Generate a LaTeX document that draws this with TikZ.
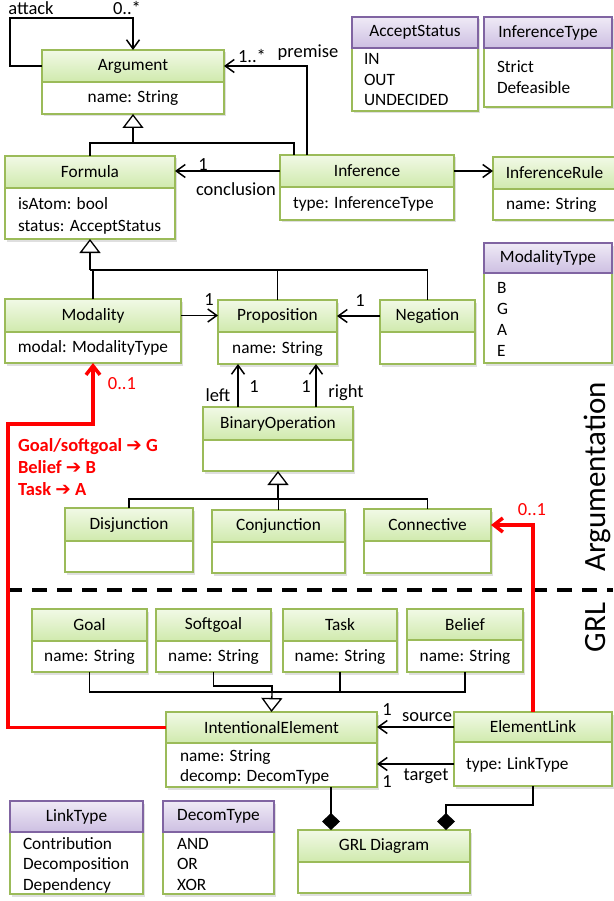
\documentclass[tikz,border=0pt]{standalone}
\usepackage{fontspec}
\setmainfont{Carlito}
\newfontfamily\arrfont{DejaVu Sans}
\usetikzlibrary{arrows.meta,shadows,calc}
\definecolor{grnb}{HTML}{9BBB59}
\definecolor{gtop}{HTML}{F1F9E6}
\definecolor{gbot}{HTML}{D0EAAD}
\definecolor{purb}{HTML}{8064A2}
\definecolor{ptop}{HTML}{EFEAF6}
\definecolor{pbot}{HTML}{CDBFE2}
\definecolor{redl}{HTML}{FF0000}
\newcommand{\umlcls}[8]{%
  \node[boxbody, minimum width={(#4-#2)*1pt}, minimum height={(#6-#3)*1pt}] (#1) at ({(#2+#4)/2},{(#3+#6)/2}) {};
  \node[#8, minimum width={(#4-#2)*1pt}, minimum height={(#5-#3)*1pt}, anchor=north] (#1-h) at (#1.north) {#7};
}
\tikzset{
  every node/.style={inner sep=0pt, outer sep=0pt},
  boxbody/.style={draw=grnb, line width=1.2pt, fill=white,
    drop shadow={shadow xshift=2pt, shadow yshift=-2.5pt, opacity=0.25}},
  ghead/.style={draw=grnb, line width=1.2pt, top color=gtop, bottom color=gbot,
    font=\fontsize{17.3}{21}\selectfont},
  phead/.style={draw=purb, line width=1.2pt, top color=ptop, bottom color=pbot,
    font=\fontsize{17.3}{21}\selectfont},
  bt/.style={font=\fontsize{17.3}{21}\selectfont, anchor=base west},
  btc/.style={font=\fontsize{17.3}{21}\selectfont, anchor=base},
  lbl/.style={font=\fontsize{18.5}{22}\selectfont},
  rlbl/.style={font=\fontsize{18.5}{22}\selectfont, text=redl},
  rbold/.style={font=\fontsize{18.5}{22}\selectfont\bfseries, text=redl, anchor=base west},
  side/.style={font=\fontsize{31}{36}\selectfont, rotate=90, anchor=base},
  assoc/.style={line width=1.5pt, -{Straight Barb[length=9pt,width=13pt]}},
  tree/.style={line width=1.3pt},
  gen/.style={line width=1.3pt, -{Triangle[open, fill=white, length=14pt, width=21pt]}},
  comp/.style={line width=1.5pt, -{Diamond[length=17pt, width=18pt]}},
  redarrow/.style={draw=redl, line width=3.5pt, -{Straight Barb[length=9pt,width=14pt]}},
}
\begin{document}
\begin{tikzpicture}[x=1pt,y=-1pt]
\useasboundingbox[fill=white] (0,0) rectangle (613,901);

% ---------- classes ----------
\umlcls{argument}{42}{50}{224}{82}{114}{Argument}{ghead}
\umlcls{formula}{5}{156}{175}{188}{239}{Formula}{ghead}
\umlcls{inference}{280}{155}{454}{187}{220}{Inference}{ghead}
\umlcls{inferencerule}{493}{157}{616}{189}{220}{InferenceRule}{ghead}
\umlcls{acceptstatus}{352}{17}{478}{48}{111}{AcceptStatus}{phead}
\umlcls{inferencetype}{484}{17}{612}{48}{107}{InferenceType}{phead}
\umlcls{modalitytype}{484}{243}{612}{273}{363}{ModalityType}{phead}
\umlcls{modality}{5}{299}{181}{332}{363}{Modality}{ghead}
\umlcls{proposition}{218}{300}{337}{332}{364}{Proposition}{ghead}
\umlcls{negation}{380}{300}{475}{332}{364}{Negation}{ghead}
\umlcls{binop}{203}{407}{353}{440}{471}{BinaryOperation}{ghead}
\umlcls{disjunction}{65}{508}{193}{541}{572}{Disjunction}{ghead}
\umlcls{conjunction}{212}{510}{345}{542}{573}{Conjunction}{ghead}
\umlcls{connective}{364}{509}{491}{541}{573}{Connective}{ghead}
\umlcls{goal}{32}{609}{147}{641}{672}{Goal}{ghead}
\umlcls{softgoal}{156}{609}{271}{641}{672}{Softgoal}{ghead}
\umlcls{task}{283}{609}{397}{641}{672}{Task}{ghead}
\umlcls{belief}{407}{609}{523}{640}{672}{Belief}{ghead}
\umlcls{ie}{166}{712}{377}{743}{787}{IntentionalElement}{ghead}
\umlcls{elink}{454}{712}{612}{742}{786}{ElementLink}{ghead}
\umlcls{linktype}{10}{801}{143}{832}{894}{LinkType}{phead}
\umlcls{decomtype}{163}{801}{274}{832}{894}{DecomType}{phead}
\umlcls{grl}{298}{830}{470}{862}{893}{GRL Diagram}{ghead}

% ---------- attributes ----------
\node[btc] (argument-a) at (133,103) {name: String};
\node[bt] (formula-a1) at (18,209.5) {isAtom: bool};
\node[bt] (formula-a2) at (18,231) {status: AcceptStatus};
\node[bt] (inference-a) at (293,209) {type: InferenceType};
\node[bt] (inferencerule-a) at (506,210) {name: String};
\node[bt] (as-1) at (364,65) {IN};
\node[bt] (as-2) at (364,85.5) {OUT};
\node[bt] (as-3) at (364,106) {UNDECIDED};
\node[bt] (it-1) at (497,73) {Strict};
\node[bt] (it-2) at (497,94) {Defeasible};
\node[bt] (mt-1) at (497,293) {B};
\node[bt] (mt-2) at (497,314) {G};
\node[bt] (mt-3) at (497,335) {A};
\node[bt] (mt-4) at (497,356) {E};
\node[btc] (modality-a) at (93,352) {modal: ModalityType};
\node[btc] (proposition-a) at (277.5,353) {name: String};
\node[btc] (goal-a) at (89.5,661) {name: String};
\node[btc] (softgoal-a) at (213.5,661) {name: String};
\node[btc] (task-a) at (340,661) {name: String};
\node[btc] (belief-a) at (465,661) {name: String};
\node[bt] (ie-a1) at (180,761) {name: String};
\node[bt] (ie-a2) at (180,781) {decomp: DecomType};
\node[bt] (elink-a) at (466,769) {type: LinkType};
\node[bt] (lt-1) at (23,849) {Contribution};
\node[bt] (lt-2) at (23,869.5) {Decomposition};
\node[bt] (lt-3) at (23,890) {Dependency};
\node[bt] (dt-1) at (177,849) {AND};
\node[bt] (dt-2) at (177,869.5) {OR};
\node[bt] (dt-3) at (177,890) {XOR};

% ---------- separator ----------
\coordinate (sepL) at (7,590);
\coordinate (sepR) at (613,590);
\draw[line width=3.5pt, dash pattern=on 15pt off 10pt] (sepL) -- (sepR);
\node[side] (argtxt) at (605,477) {Argumentation};
\node[side] (grltxt) at (605,627.5) {GRL};

% ---------- generalizations ----------
\coordinate (j1) at (133,143);
\draw[tree] (formula.north) |- (j1);
\draw[tree] (j1) -| ($(inference.north west)+(14,0)$);
\draw[gen] (j1) -- (argument.south);

\coordinate (j2) at (90,270);
\draw[tree] (modality.north) -- (modality.north |- j2);
\draw[tree] (j2) -| (negation.north);
\draw[tree] (proposition.north) -- (proposition.north |- j2);
\draw[gen] (j2) -- (formula.south);

\coordinate (j3) at (278,499);
\draw[tree] (disjunction.north) |- (j3) -| (connective.north);
\draw[tree] (conjunction.north) -- (conjunction.north |- j3);
\draw[gen] (j3) -- (binop.south);

\coordinate (j4) at (272,692);
\coordinate (j5) at (272,686);
\draw[tree] (goal.south) |- (belief.south |- j4) -- (belief.south);
\draw[tree] (softgoal.south) |- (j5) -- (j4);
\draw[tree] (task.south) -- (task.south |- j4);
\draw[gen] (j4) -- (ie.north);

% ---------- associations ----------
\draw[assoc] (argument-h.west) -- ++(-32,0) -- ++(0,-48) -| (argument.north);
\node[lbl] (l-attack) at (31,8) {attack};
\node[lbl] (l-attackm) at (127,8) {0..*};

\draw[assoc] ($(inference.north west)+(27,0)$) |- (argument-h.east);
\node[lbl] (l-premm) at (252,56) {1..*};
\node[lbl] (l-prem) at (308,53) {premise};

\draw[assoc] (inference-h.west) -- (inference-h.west -| formula.east);
\node[lbl] (l-concm) at (203,165) {1};
\node[lbl] (l-conc) at (236,189) {conclusion};

\draw[assoc] (inference-h.east) -- (inference-h.east -| inferencerule.west);

\draw[assoc] (modality-h.east) -- (modality-h.east -| proposition.west);
\node[lbl] (l-modm) at (209,300) {1};
\draw[assoc] (negation-h.west) -- (negation-h.west -| proposition.east);
\node[lbl] (l-negm) at (360,301) {1};

\coordinate (lft) at ($(binop.north west)+(35,0)$);
\coordinate (rgt) at ($(binop.north west)+(113,0)$);
\draw[assoc] (lft) -- (lft |- proposition.south);
\draw[assoc] (rgt) -- (rgt |- proposition.south);
\node[lbl] (l-left) at (218,395) {left};
\node[lbl] (l-leftm) at (254,387) {1};
\node[lbl] (l-rightm) at (306,387) {1};
\node[lbl] (l-right) at (346,393) {right};

\draw[assoc] (elink-h.west) -- (elink-h.west -| ie.east);
\node[lbl] (l-srcm) at (387,710) {1};
\node[lbl] (l-src) at (427,717) {source};
\coordinate (tg) at ($(elink.south west)+(0,-22)$);
\draw[assoc] (tg) -- (tg -| ie.east);
\node[lbl] (l-tgtm) at (387,782) {1};
\node[lbl] (l-tgt) at (426,776) {target};

\coordinate (c1) at ($(ie.south west)+(165,0)$);
\draw[comp] (c1) -- (c1 |- grl.north);
\coordinate (c2) at ($(grl.north west)+(148,0)$);
\draw[comp] (elink.south) -- ++(0,19) -| (c2);

% ---------- red mappings ----------
\coordinate (r1) at (8,424);
\draw[redarrow] (ie-h.west) -| (r1) -| (modality.south);
\node[rlbl] (l-r1) at (122,384) {0..1};
\draw[redarrow] (elink.north) |- (connective-h.east);
\node[rlbl] (l-r2) at (532,510) {0..1};
\node[rbold] (m1) at (18,451) {Goal/softgoal {\arrfont\bfseries ➔} G};
\node[rbold] (m2) at (18,473) {Belief {\arrfont\bfseries ➔} B};
\node[rbold] (m3) at (18,495) {Task {\arrfont\bfseries ➔} A};
\end{tikzpicture}
\end{document}
